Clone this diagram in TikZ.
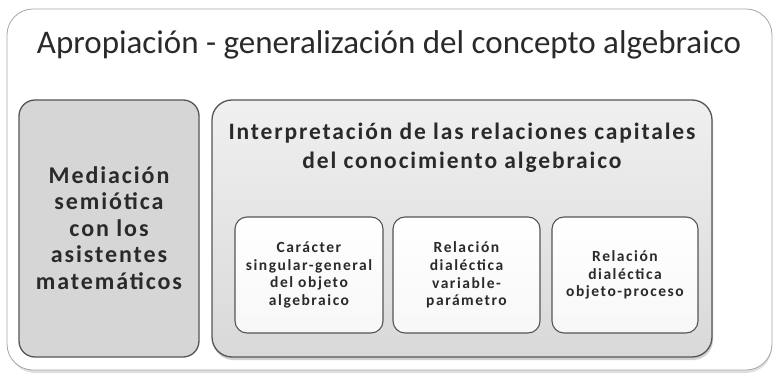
\documentclass[tikz,border=0pt]{standalone}
\usepackage{fontspec}
\setmainfont{Carlito}
\newfontfamily\spbold[LetterSpace=8]{Carlito}
\newfontfamily\spboldw[LetterSpace=10]{Carlito}
\usetikzlibrary{shadows}
\definecolor{txt}{HTML}{2A2A2A}
\definecolor{edge}{HTML}{555555}
\tikzset{
  outerbox/.style={draw=gray!70, line width=0.8pt, rounded corners=26pt, fill=white},
  sidebox/.style={draw=edge, line width=1.3pt, rounded corners=16pt, fill=gray!32},
  bigbox/.style={draw=edge, line width=1.3pt, rounded corners=20pt, top color=gray!12, bottom color=gray!30,
     drop shadow={shadow xshift=1pt, shadow yshift=-3pt, opacity=0.35}},
  smallbox/.style={draw=edge, line width=1.1pt, rounded corners=12pt, top color=white, bottom color=gray!6},
  sidetext/.style={text=txt, align=center, font=\spbold\bfseries\fontsize{24}{26.5}\selectfont},
  bigtext/.style={text=txt, align=center, font=\spbold\bfseries\fontsize{23.5}{29}\selectfont},
  smalltext/.style={text=txt, align=center, font=\spboldw\bfseries\fontsize{15.5}{17.7}\selectfont},
}
\begin{document}
\begin{tikzpicture}[x=1pt,y=-1pt]
\useasboundingbox (0,0) rectangle (773,374);
\fill[gray!25] (9,14) [rounded corners=26pt] rectangle (772,373);
\draw[outerbox] (7,9) rectangle (772,370);
\node[text=txt, font=\fontsize{33}{38}\selectfont] (title) at (389,45) {Apropiación - generalización del concepto algebraico};
\draw[sidebox] (19,100) rectangle (199,357);
\node[sidetext] (side) at (109,228) {Mediación\\semiótica\\con los\\asistentes\\matemáticos};
\draw[bigbox] (212,100) rectangle (712,357);
\node[bigtext] (big) at (462,148) {Interpretación de las relaciones capitales\\del conocimiento algebraico};
\draw[smallbox] (235,217) rectangle (383,333);
\draw[smallbox] (393,217) rectangle (540,333);
\draw[smallbox] (552,217) rectangle (698,333);
\node[smalltext] (b1) at (309,275) {Carácter\\singular-general\\del objeto\\algebraico};
\node[smalltext] (b2) at (466.5,275) {Relación\\dialéctica\\variable-\\parámetro};
\node[smalltext] (b3) at (625,275) {Relación\\dialéctica\\objeto-proceso};
\end{tikzpicture}
\end{document}
